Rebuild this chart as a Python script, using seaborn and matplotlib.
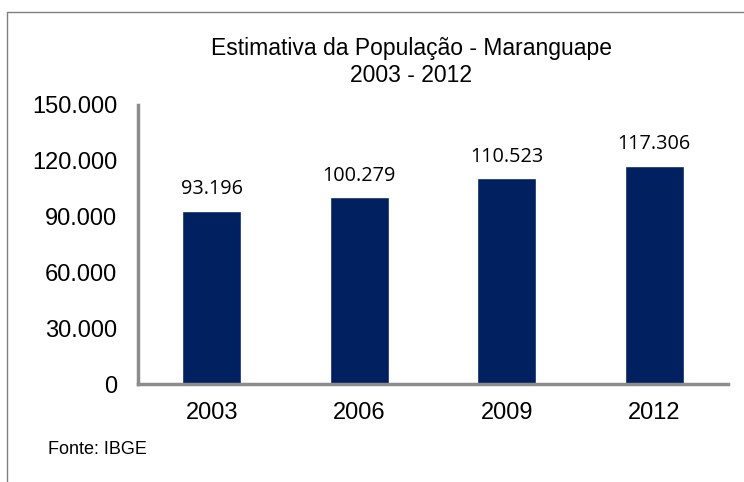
import matplotlib
matplotlib.use("Agg")
import matplotlib.pyplot as plt
import seaborn as sns
import pandas as pd
from matplotlib.lines import Line2D

years = ["2003", "2006", "2009", "2012"]
population = [93196, 100279, 110523, 117306]
value_labels = ["93.196", "100.279", "110.523", "117.306"]
yticks = [0, 30000, 60000, 90000, 120000, 150000]
ytick_labels = ["0", "30.000", "60.000", "90.000", "120.000", "150.000"]

sns.set_theme(style="white")
plt.rcParams['font.family'] = ['Liberation Sans', 'DejaVu Sans']
plt.rcParams['text.color'] = 'black'

df = pd.DataFrame({"ano": years, "pop": population})

fig = plt.figure(figsize=(7.44, 4.82), dpi=100)
ax = fig.add_axes([0.1855, 0.2033, 0.793, 0.579])
sns.barplot(data=df, x="ano", y="pop", color="#002060", width=0.4,
            saturation=1, ax=ax)
ax.set_xlim(-0.5, 3.5)
ax.set_ylim(0, 150000)
ax.set_yticks(yticks)
ax.set_yticklabels(ytick_labels, fontsize=17, color="black")
ax.tick_params(axis="y", length=0, pad=15)
ax.tick_params(axis="x", length=0, pad=13, labelsize=17, labelcolor="black")
ax.set_xlabel("")
ax.set_ylabel("")
for s in ["top", "right"]:
    ax.spines[s].set_visible(False)
for s in ["left", "bottom"]:
    ax.spines[s].set_color("#8c8c8c")
    ax.spines[s].set_linewidth(2.5)

for p, lab in zip(ax.patches, value_labels):
    ax.annotate(lab, (p.get_x() + p.get_width() / 2, p.get_height()),
                xytext=(0, 8.5), textcoords="offset points",
                ha="center", va="bottom", fontsize=14.3,
                family=["Open Sans", "DejaVu Sans"], color="black")

fig.text(0.553, 1 - 48/482, "Estimativa da População - Maranguape",
         ha="center", va="center", fontsize=16.5, color="black")
fig.text(0.553, 1 - 75/482, "2003 - 2012",
         ha="center", va="center", fontsize=16.5, color="black")
fig.text(0.065, 1 - 450/482, "Fonte: IBGE", ha="left", va="center",
         fontsize=13, color="black")

fig.add_artist(Line2D([7/744, 1], [1 - 12/482, 1 - 12/482], transform=fig.transFigure,
                      color="#7f7f7f", linewidth=1))
fig.add_artist(Line2D([7/744, 7/744], [0, 1 - 12/482], transform=fig.transFigure,
                      color="#7f7f7f", linewidth=1))

fig.savefig("out.png", dpi=100)
